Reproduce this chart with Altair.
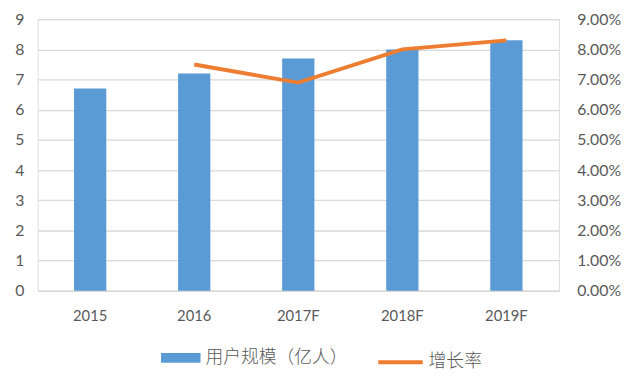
import altair as alt
import pandas as pd

years = ["2015", "2016", "2017F", "2018F", "2019F"]
users = [6.7, 7.2, 7.7, 8.0, 8.3]
growth_years = ["2016", "2017F", "2018F", "2019F"]
growth = [0.075, 0.069, 0.080, 0.083]

bar_name = "用户规模（亿人）"
line_name = "增长率"

df_bar = pd.DataFrame({"year": years, "users": users, "series": bar_name})
df_line = pd.DataFrame({"year": growth_years, "growth": growth, "series": line_name})

LABEL_FONT = "Lato"
CJK_FONT = "Noto Sans CJK SC"
GREY = "#595959"

x = alt.X("year:N", sort=years, title=None,
          scale=alt.Scale(paddingInner=0.69, paddingOuter=0.35),
          axis=alt.Axis(labelAngle=0, ticks=False, domain=True, domainColor="#D9D9D9",
                        labelFont=LABEL_FONT, labelFontSize=15, labelColor=GREY,
                        labelPadding=18))

bars = alt.Chart(df_bar).mark_bar(color="#5B9BD5").encode(
    x=x,
    y=alt.Y("users:Q", title=None,
            scale=alt.Scale(domain=[0, 9], nice=False),
            axis=alt.Axis(values=list(range(10)), ticks=False, domain=False,
                          gridColor="#D9D9D9", gridWidth=1.3,
                          labelFont=LABEL_FONT, labelFontSize=16, labelColor=GREY,
                          labelPadding=14)),
    fill=alt.Fill("series:N", title=None,
                  scale=alt.Scale(range=["#5B9BD5"]),
                  legend=alt.Legend(orient="none", legendX=125, legendY=323,
                                    symbolType="M-1,-0.25L1,-0.25L1,0.25L-1,0.25Z",
                                    symbolSize=1600, symbolStrokeWidth=0,
                                    labelFont=CJK_FONT, labelFontSize=18,
                                    labelFontWeight=300,
                                    labelColor=GREY, labelOffset=5)),
)

line = alt.Chart(df_line).mark_line(color="#ED7D31", strokeWidth=4).encode(
    x=alt.X("year:N", sort=years),
    y=alt.Y("growth:Q", title=None,
            scale=alt.Scale(domain=[0, 0.09], nice=False),
            axis=alt.Axis(orient="right", values=[i / 100 for i in range(10)],
                          format=".2%", ticks=False, domain=False, grid=False,
                          labelFont=LABEL_FONT, labelFontSize=16, labelColor=GREY,
                          labelPadding=18, labelAlign="left")),
    stroke=alt.Stroke("series:N", title=None,
                      scale=alt.Scale(range=["#ED7D31"]),
                      legend=alt.Legend(orient="none", legendX=343, legendY=323,
                                        symbolType="stroke", symbolSize=2025,
                                        symbolStrokeWidth=4,
                                        labelFont=CJK_FONT, labelFontSize=18,
                                        labelFontWeight=300,
                                        labelColor=GREY, labelOffset=4)),
)

chart = alt.layer(bars, line).resolve_scale(y="independent").properties(
    width=528, height=275,
    autosize=alt.AutoSizeParams(type="none"),
    padding={"left": 30, "top": 9, "right": 74, "bottom": 86},
).configure_view(stroke=None).configure(background="white")

chart.save("out.html", embed_options={"renderer": "svg", "actions": False})
